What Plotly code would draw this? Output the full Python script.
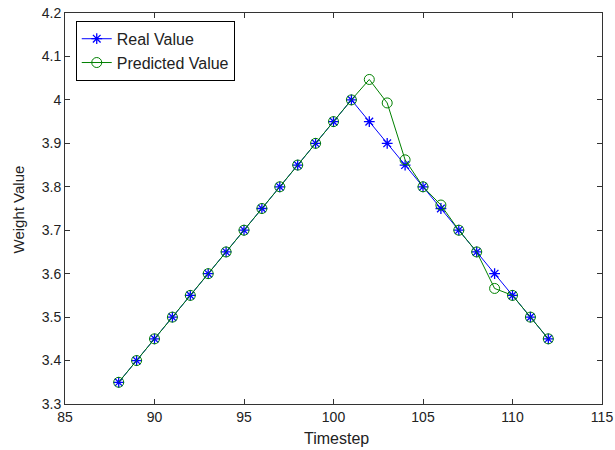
import plotly.graph_objects as go

timestep = list(range(88, 113))
real_value = [3.35, 3.40, 3.45, 3.50, 3.55, 3.60, 3.65, 3.70, 3.75, 3.80, 3.85, 3.90, 3.95, 4.00,
              3.95, 3.90, 3.85, 3.80, 3.75, 3.70, 3.65, 3.60, 3.55, 3.50, 3.45]
predicted_value = [3.35, 3.40, 3.45, 3.50, 3.55, 3.60, 3.65, 3.70, 3.75, 3.80, 3.85, 3.90, 3.95, 4.00,
                   4.047, 3.993, 3.862, 3.80, 3.758, 3.70, 3.65, 3.566, 3.55, 3.50, 3.45]
x_ticks = [85, 90, 95, 100, 105, 110, 115]
y_ticks = [3.3, 3.4, 3.5, 3.6, 3.7, 3.8, 3.9, 4.0, 4.1, 4.2]
y_tick_labels = ["3.3", "3.4", "3.5", "3.6", "3.7", "3.8", "3.9", "4", "4.1", "4.2"]
x_title = "Timestep"
y_title = "Weight Value"

font = "Liberation Sans, Arial, sans-serif"
txt = "#222222"

fig = go.Figure()
fig.add_trace(go.Scatter(
    x=timestep, y=real_value, name="Real Value", mode="lines+markers",
    line=dict(color="#0000ff", width=1),
    marker=dict(symbol="asterisk-open", size=9, color="#0000ff", line=dict(color="#0000ff", width=1.3)),
))
fig.add_trace(go.Scatter(
    x=timestep, y=predicted_value, name="Predicted Value", mode="lines+markers",
    line=dict(color="#008000", width=1),
    marker=dict(symbol="circle-open", size=10, color="#008000", line=dict(color="#008000", width=1)),
))

axis_common = dict(
    showline=True, linecolor="#333333", linewidth=1, mirror="ticks",
    ticks="inside", ticklen=5, tickcolor="#333333", showgrid=False, zeroline=False,
    tickfont=dict(family=font, size=14, color=txt), automargin=False,
)
fig.update_xaxes(range=[85, 115], tickvals=x_ticks, ticktext=[str(v) for v in x_ticks], **axis_common)
fig.update_yaxes(range=[3.3, 4.2], tickvals=y_ticks, ticktext=y_tick_labels, **axis_common)

fig.add_annotation(text=x_title, xref="paper", yref="paper", x=0.505, y=-0.087,
                   xanchor="center", yanchor="middle", showarrow=False,
                   font=dict(family=font, size=16, color=txt))
fig.add_annotation(text=y_title, xref="paper", yref="paper", x=-0.086, y=0.497,
                   xanchor="center", yanchor="middle", showarrow=False, textangle=-90,
                   font=dict(family=font, size=15, color=txt))

fig.update_layout(
    width=615, height=450,
    margin=dict(l=65, r=13, t=13, b=46, autoexpand=False),
    plot_bgcolor="white", paper_bgcolor="white",
    font=dict(family=font, size=14, color=txt),
    legend=dict(x=0.02, y=0.98, xanchor="left", yanchor="top",
                bordercolor="#000000", borderwidth=1, bgcolor="white",
                font=dict(family=font, size=16, color=txt),
                itemwidth=30, tracegroupgap=0),
    showlegend=True,
)

fig.write_html("out.html", config={"displayModeBar": False},
               post_script="document.body.style.margin='0';")
